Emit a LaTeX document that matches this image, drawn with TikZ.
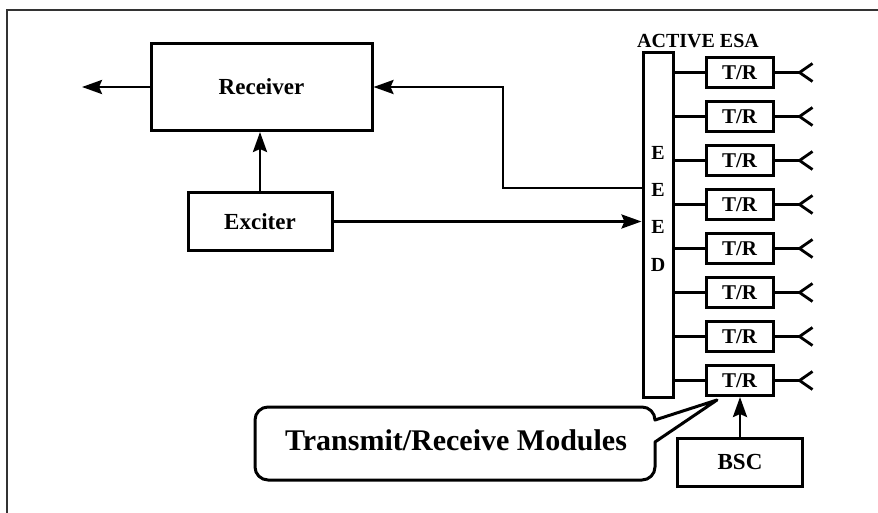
\documentclass[tikz,border=0pt]{standalone}
\usepackage{fontspec}
\setmainfont{Liberation Serif}
\usetikzlibrary{arrows.meta, positioning, calc}

\begin{document}
\begin{tikzpicture}[
    x=1pt, y=-1pt,
    block/.style={rectangle, draw, line width=3pt, inner sep=0pt, font=\fontsize{23}{26}\selectfont\bfseries},
    trbox/.style={rectangle, draw, line width=3pt, inner sep=0pt, minimum width=67pt, minimum height=30pt, font=\fontsize{21}{24}\selectfont\bfseries},
    letter/.style={inner sep=0pt, font=\fontsize{20}{22}\selectfont\bfseries},
    wire/.style={line width=2.8pt},
    arrow/.style={-{Stealth[length=20pt, width=14pt, inset=3pt]}, line width=2.8pt}
]
\useasboundingbox (0,0) rectangle (878,513);

% Frame
\draw[line width=1.6pt, black!80] (7,513) -- (7,10) -- (878,10);

% Blocks
\node[block, minimum width=221pt, minimum height=87pt] (receiver) at (261.5,87) {Receiver};
\node[block, minimum width=144pt, minimum height=57pt] (exciter) at (260,221.5) {Exciter};
\node[rectangle, draw, line width=3pt, minimum width=30pt, minimum height=344pt] (eeed) at (658,225) {};
\foreach \l/\y in {E/153, E/190, E/227, D/265}
    \node[letter] (eeed-\y) at (658,\y) {\l};
\node[letter] (esa) at (698,41) {ACTIVE ESA};

% T/R modules with antennas
\foreach \i in {1,...,8} {
    \node[trbox] (tr\i) at (739.5,{72.5+44*(\i-1)}) {T/R};
    \draw[wire] (eeed.east |- tr\i) -- (tr\i.west);
    \coordinate (ant\i) at ($(tr\i.east)+(25,0)$);
    \draw[wire] (tr\i.east) -- (ant\i);
    \draw[wire] ($(ant\i)+(13,-9)$) -- (ant\i) -- ($(ant\i)+(13,9)$);
}
\node[block, minimum width=125pt, minimum height=48pt] (bsc) at (740,462) {BSC};

% Arrows
\coordinate (out) at (82,87);
\coordinate (bend) at (503,188);
\draw[arrow] (receiver.west) -- (out);
\draw[arrow] (exciter.north) -- (exciter.north |- receiver.south);
\draw[arrow] (exciter.east) -- (exciter.east -| eeed.west);
\draw[arrow] (eeed.west |- bend) -- (bend) |- (receiver.east);
\draw[arrow] (bsc.north) -- (bsc.north |- tr8.south);

% Callout
\coordinate (tip) at (717,400);
\draw[line width=3pt, line join=round] (tip) -- (655,442) [rounded corners=13pt] -- (655,480) -- (255,480) -- (255,407) -- (655,407) [sharp corners] -- (655,420) -- cycle;
\node[inner sep=0pt, font=\fontsize{30}{34}\selectfont\bfseries] (modules) at (456,440) {Transmit/Receive Modules};
\end{tikzpicture}
\end{document}
